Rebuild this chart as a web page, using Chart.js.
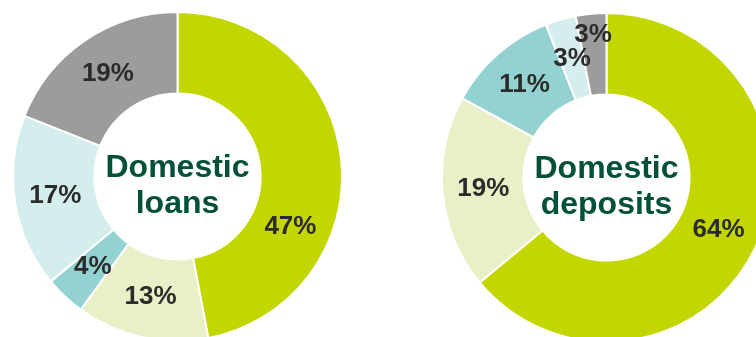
<!DOCTYPE html>
<html>
<head>
<meta charset="utf-8">
<script src="https://cdn.jsdelivr.net/npm/chart.js@4"></script>
<style>
  html, body { margin: 0; padding: 0; background: #fff; }
  body { position: relative; width: 756px; height: 337px; overflow: hidden; }
  canvas { position: absolute; }
  #loansChart { left: 12px; top: 11px; }
  #depositsChart { left: 441px; top: 12px; }
</style>
</head>
<body>
<canvas id="loansChart" width="331" height="331"></canvas>
<canvas id="depositsChart" width="331" height="331"></canvas>
<script>
// ----------------------
// data
// ----------------------
const loanSegments = ['Segment 1', 'Segment 2', 'Segment 3', 'Segment 4', 'Segment 5'];
const loanShares = [47, 13, 4, 17, 19];

const depositSegments = ['Segment 1', 'Segment 2', 'Segment 3', 'Segment 4', 'Segment 5'];
const depositShares = [64, 19, 11, 3, 3];

const sliceColors = ['#c4d600', '#e9f0c7', '#94d2d2', '#d4eded', '#9c9c9c'];

// ----------------------
// percentage labels on the ring
// ----------------------
const sliceLabels = {
  id: 'sliceLabels',
  afterDatasetsDraw(chart, args, opts) {
    const ctx = chart.ctx;
    const meta = chart.getDatasetMeta(0);
    const values = chart.data.datasets[0].data;
    const along = opts.along || {};
    const across = opts.across || {};
    ctx.save();
    ctx.font = opts.font;
    ctx.fillStyle = opts.color;
    ctx.textAlign = 'center';
    ctx.textBaseline = 'middle';
    meta.data.forEach((arc, i) => {
      const p = arc.getProps(['x', 'y', 'startAngle', 'endAngle', 'innerRadius', 'outerRadius'], true);
      const a = p.startAngle + (p.endAngle - p.startAngle) * (along[i] ?? 0.5);
      const r = p.innerRadius + (p.outerRadius - p.innerRadius) * (across[i] ?? 0.5);
      ctx.fillText(values[i] + '%', p.x + Math.cos(a) * r, p.y + Math.sin(a) * r);
    });
    ctx.restore();
  }
};

// ----------------------
// title in the hole
// ----------------------
const centerTitle = {
  id: 'centerTitle',
  afterDraw(chart, args, opts) {
    const ctx = chart.ctx;
    const arc = chart.getDatasetMeta(0).data[0];
    ctx.save();
    ctx.font = opts.font;
    ctx.fillStyle = opts.color;
    ctx.textAlign = 'center';
    ctx.textBaseline = 'alphabetic';
    opts.lines.forEach((line, i) => {
      ctx.fillText(line, arc.x, arc.y + opts.firstBaseline + i * opts.lineHeight);
    });
    ctx.restore();
  }
};

function createDonut(canvasId, names, values, title, labelOpts) {
  return new Chart(document.getElementById(canvasId), {
    type: 'doughnut',
    data: {
      labels: names,
      datasets: [{
        data: values,
        backgroundColor: sliceColors,
        borderColor: '#ffffff',
        borderWidth: 2
      }]
    },
    options: {
      responsive: false,
      devicePixelRatio: 1,
      animation: false,
      cutout: '50.5%',
      layout: { padding: 0 },
      plugins: {
        legend: { display: false },
        tooltip: { enabled: false },
        sliceLabels: Object.assign({
          font: 'bold 26px "Liberation Sans", Arial, sans-serif',
          color: '#2b2b2b'
        }, labelOpts),
        centerTitle: {
          lines: title,
          font: 'bold 32px "Liberation Sans", Arial, sans-serif',
          color: '#00503a',
          firstBaseline: 0.5,
          lineHeight: 36
        }
      }
    },
    plugins: [sliceLabels, centerTitle]
  });
}

createDonut('loansChart', loanSegments, loanShares, ['Domestic', 'loans'], {
  along: { 0: 0.675 }
});
createDonut('depositsChart', depositSegments, depositShares, ['Domestic', 'deposits'], {
  across: { 4: 0.74 }
});
</script>
</body>
</html>
